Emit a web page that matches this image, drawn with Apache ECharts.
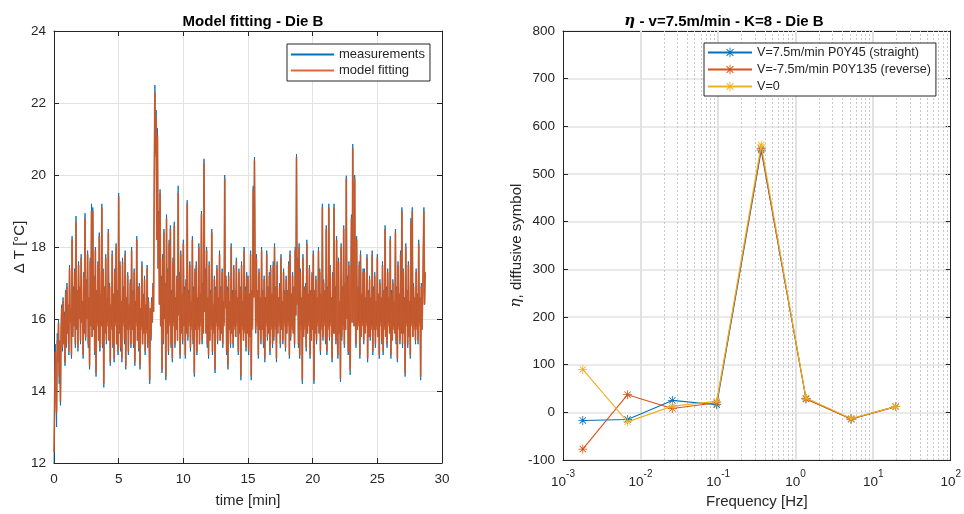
<!DOCTYPE html>
<html>
<head>
<meta charset="utf-8">
<title>Die B</title>
<script src="https://cdn.jsdelivr.net/npm/echarts@6/dist/echarts.min.js"></script>
<style>
  html, body { margin: 0; padding: 0; background: #fff; }
  #chart { width: 964px; height: 514px; }
</style>
</head>
<body>
<div id="chart"></div>
<script>
// ---- Left panel: temperature rise over time, sampled every 0.05 min ----
const SAMPLE_STEP_MIN = 0.05;

const measurements = [
  12.0, 13.5, 15.3, 14.0, 13.0, 15.6, 14.8, 16.0, 14.2, 15.4, 13.6, 15.8, 16.4, 15.1, 16.6, 15.3, 16.2, 14.7, 16.8, 15.2,
  17.0, 15.6, 16.4, 15.0, 17.5, 15.9, 16.3, 14.9, 18.3, 15.5, 16.9, 15.8, 17.4, 15.2, 18.86, 15.7, 16.8, 15.1, 17.6, 16.0,
  16.9, 15.3, 17.8, 15.9, 16.5, 14.9, 17.3, 15.6, 18.94, 15.4, 17.1, 16.0, 17.9, 15.2, 16.6, 14.6, 17.7, 15.8, 19.2, 15.5,
  19.1, 15.7, 17.2, 15.0, 18.0, 14.4, 16.8, 15.9, 17.6, 15.4, 18.4, 15.1, 16.7, 15.8, 19.2, 15.2, 17.4, 14.1, 16.9, 15.6,
  17.8, 15.3, 16.6, 15.9, 18.5, 15.4, 17.0, 14.7, 16.4, 15.8, 17.9, 15.2, 16.7, 14.8, 17.4, 15.9, 18.1, 15.3, 16.8, 15.0,
  19.5, 15.6, 17.6, 15.1, 16.5, 14.8, 17.7, 15.9, 16.9, 15.3, 17.9, 14.6, 16.6, 15.7, 17.3, 15.0, 16.4, 15.8, 17.1, 15.2,
  18.0, 15.7, 16.8, 15.2, 17.4, 14.7, 16.5, 15.9, 18.3, 15.4, 16.9, 15.1, 17.0, 14.6, 16.3, 15.8, 17.6, 15.3, 16.7, 15.6,
  17.2, 15.0, 16.4, 15.7, 17.5, 15.2, 16.6, 15.8, 14.2, 16.3, 15.4, 16.6, 15.9, 17.0, 16.2, 19.8, 22.5, 20.6, 21.8, 18.2,
  21.3, 17.4, 19.0, 16.4, 19.6, 15.8, 17.2, 14.5, 17.8, 15.3, 18.5, 16.0, 17.0, 14.3, 18.9, 15.6, 17.4, 15.0, 18.2, 15.9,
  18.6, 15.2, 16.8, 14.8, 17.7, 15.9, 18.7, 15.2, 16.6, 15.7, 17.2, 15.4, 19.7, 16.1, 17.3, 14.9, 17.9, 15.6, 16.7, 15.3,
  18.2, 15.8, 16.9, 14.9, 17.1, 15.6, 19.3, 15.4, 16.8, 15.9, 17.6, 15.1, 16.5, 15.8, 18.3, 15.3, 16.9, 14.4, 17.4, 15.7,
  17.6, 15.0, 16.6, 15.8, 18.1, 15.3, 16.7, 15.9, 19.0, 15.3, 17.0, 15.6, 20.45, 16.2, 17.4, 15.6, 18.0, 15.2, 16.6, 14.9,
  17.6, 15.4, 16.8, 15.8, 18.5, 15.0, 16.4, 15.7, 17.2, 14.5, 16.9, 15.9, 17.5, 15.3, 16.6, 15.8, 17.9, 15.4, 16.9, 15.6,
  17.4, 15.2, 16.5, 15.9, 20.0, 16.3, 17.2, 15.0, 16.9, 14.6, 17.3, 15.7, 16.5, 15.2, 18.1, 15.6, 16.8, 15.2, 17.5, 15.8,
  16.8, 15.5, 17.7, 15.9, 16.6, 15.0, 17.4, 15.6, 16.9, 14.3, 17.6, 15.8, 16.5, 15.4, 18.0, 15.7, 16.9, 15.1, 17.3, 15.6,
  17.2, 15.0, 16.7, 15.5, 17.9, 14.3, 16.8, 15.8, 19.7, 16.6, 20.5, 17.3, 15.6, 17.8, 15.9, 16.8, 14.9, 17.4, 15.7, 16.6,
  15.3, 18.0, 15.7, 16.8, 15.2, 17.2, 14.8, 16.6, 15.9, 17.9, 15.4, 16.9, 15.6, 17.3, 15.0, 17.5, 15.8, 16.7, 15.2, 17.6,
  15.4, 18.1, 15.8, 16.9, 14.8, 17.6, 15.6, 16.6, 15.9, 17.0, 15.2, 17.8, 15.7, 16.5, 15.3, 17.4, 15.9, 16.8, 15.1, 17.2,
  15.6, 16.8, 15.9, 17.6, 14.9, 17.9, 15.4, 16.7, 15.8, 17.3, 15.6, 16.9, 15.2, 18.0, 16.1, 20.58, 16.4, 17.7, 15.2, 18.1,
  14.9, 17.4, 15.8, 16.6, 14.2, 17.8, 15.5, 16.9, 15.8, 17.0, 15.1, 18.2, 15.6, 16.7, 15.9, 17.5, 14.9, 16.8, 15.4, 17.3,
  15.7, 17.9, 14.2, 16.8, 15.6, 17.2, 15.3, 16.6, 15.9, 18.0, 15.6, 17.4, 15.0, 16.7, 15.8, 19.2, 15.4, 17.1, 15.9, 16.8,
  15.3, 18.6, 15.0, 16.9, 15.8, 19.2, 15.4, 17.5, 15.9, 16.6, 14.8, 17.3, 15.6, 19.2, 15.6, 16.9, 15.3, 18.3, 15.9, 14.9,
  17.7, 15.6, 16.5, 14.25, 18.1, 15.4, 16.9, 15.8, 18.6, 15.2, 17.0, 15.7, 19.98, 16.0, 17.2, 15.0, 17.6, 15.8, 14.45, 16.9,
  18.9, 15.9, 20.86, 17.1, 15.8, 20.0, 16.3, 15.2, 18.3, 15.7, 16.9, 15.9, 17.6, 14.9, 17.9, 15.5, 16.7, 15.9, 17.4, 15.3,
  17.4, 15.6, 16.6, 15.9, 17.8, 14.8, 16.8, 15.5, 17.2, 15.4, 16.6, 15.8, 17.9, 15.0, 16.9, 15.7, 17.3, 15.2, 16.5, 15.8,
  17.8, 15.5, 16.7, 14.9, 17.1, 15.9, 16.6, 15.3, 17.6, 15.0, 16.8, 15.8, 18.6, 15.5, 16.9, 15.2, 17.4, 15.9, 16.6, 15.6,
  18.3, 14.9, 16.8, 15.4, 17.1, 15.8, 16.5, 15.6, 18.5, 15.3, 16.9, 14.8, 17.6, 15.8, 16.7, 15.3, 17.9, 15.6, 19.1, 15.2,
  17.4, 15.6, 16.6, 14.4, 18.1, 15.9, 16.8, 15.2, 17.6, 15.5, 16.5, 14.9, 18.8, 15.9, 19.1, 15.5, 17.0, 15.8, 16.6, 15.3,
  17.4, 15.8, 16.7, 15.3, 18.2, 15.9, 16.6, 14.3, 17.0, 15.7, 16.5, 17.8, 19.1, 16.4, 17.3
];

const modelFitting = [
  12.3, 13.8, 15.1, 14.2, 13.4, 15.4, 14.9, 15.9, 14.4, 15.3, 13.7, 15.7, 16.3, 15.2, 16.5, 15.3, 16.1, 14.8, 16.7, 15.3,
  16.9, 15.6, 16.4, 15.1, 17.4, 15.9, 16.3, 15.0, 18.2, 15.5, 16.8, 15.8, 17.3, 15.3, 18.7, 15.7, 16.8, 15.2, 17.5, 16.0,
  16.9, 15.4, 17.7, 15.9, 16.5, 15.0, 17.2, 15.6, 18.8, 15.5, 17.0, 16.0, 17.8, 15.3, 16.6, 14.7, 17.6, 15.8, 19.0, 15.5,
  19.0, 15.7, 17.1, 15.1, 17.9, 14.5, 16.8, 15.8, 17.5, 15.4, 18.3, 15.2, 16.7, 15.8, 19.1, 15.3, 17.3, 14.2, 16.9, 15.6,
  17.7, 15.4, 16.6, 15.8, 18.4, 15.4, 16.9, 14.8, 16.4, 15.7, 17.8, 15.3, 16.7, 14.9, 17.3, 15.8, 18.0, 15.3, 16.7, 15.1,
  19.4, 15.6, 17.5, 15.2, 16.5, 14.9, 17.6, 15.8, 16.8, 15.4, 17.8, 14.7, 16.6, 15.7, 17.2, 15.1, 16.4, 15.7, 17.0, 15.3,
  17.9, 15.7, 16.7, 15.3, 17.3, 14.8, 16.5, 15.8, 18.2, 15.4, 16.8, 15.2, 16.9, 14.7, 16.3, 15.7, 17.5, 15.3, 16.6, 15.6,
  17.1, 15.1, 16.4, 15.6, 17.4, 15.3, 16.5, 15.7, 14.3, 16.3, 15.5, 16.5, 15.9, 16.9, 16.2, 19.6, 22.3, 20.5, 21.6, 18.2,
  21.1, 17.4, 18.9, 16.4, 19.5, 15.8, 17.1, 14.6, 17.7, 15.4, 18.4, 16.0, 16.9, 14.4, 18.8, 15.6, 17.3, 15.1, 18.1, 15.8,
  18.5, 15.3, 16.7, 14.9, 17.6, 15.8, 18.6, 15.3, 16.6, 15.7, 17.1, 15.4, 19.5, 16.1, 17.2, 15.0, 17.8, 15.6, 16.7, 15.4,
  18.1, 15.8, 16.8, 15.0, 17.0, 15.6, 19.2, 15.5, 16.7, 15.8, 17.5, 15.2, 16.5, 15.7, 18.2, 15.4, 16.8, 14.5, 17.3, 15.7,
  17.5, 15.1, 16.6, 15.7, 18.0, 15.3, 16.7, 15.8, 18.9, 15.4, 16.9, 15.6, 20.35, 16.2, 17.3, 15.6, 17.9, 15.3, 16.6, 15.0,
  17.5, 15.4, 16.7, 15.7, 18.4, 15.1, 16.4, 15.6, 17.1, 14.6, 16.8, 15.8, 17.4, 15.4, 16.6, 15.7, 17.8, 15.4, 16.8, 15.6,
  17.3, 15.3, 16.5, 15.8, 19.9, 16.3, 17.1, 15.1, 16.8, 14.7, 17.2, 15.7, 16.5, 15.3, 18.0, 15.6, 16.7, 15.3, 17.4, 15.7,
  16.8, 15.5, 17.6, 15.8, 16.6, 15.1, 17.3, 15.6, 16.8, 14.4, 17.5, 15.7, 16.5, 15.4, 17.9, 15.6, 16.8, 15.2, 17.2, 15.6,
  17.1, 15.1, 16.7, 15.5, 17.8, 14.4, 16.7, 15.7, 19.6, 16.6, 20.4, 17.3, 15.7, 17.7, 15.8, 16.8, 15.0, 17.3, 15.7, 16.6,
  15.4, 17.9, 15.7, 16.7, 15.3, 17.1, 14.9, 16.6, 15.8, 17.8, 15.5, 16.8, 15.6, 17.2, 15.1, 17.4, 15.7, 16.7, 15.3, 17.5,
  15.5, 18.0, 15.7, 16.8, 14.9, 17.5, 15.6, 16.6, 15.8, 16.9, 15.3, 17.7, 15.7, 16.5, 15.4, 17.3, 15.8, 16.7, 15.2, 17.1,
  15.6, 16.8, 15.8, 17.5, 15.0, 17.8, 15.5, 16.7, 15.7, 17.2, 15.6, 16.8, 15.3, 17.9, 16.1, 20.5, 16.4, 17.6, 15.3, 18.0,
  15.0, 17.3, 15.7, 16.6, 14.3, 17.7, 15.5, 16.8, 15.7, 16.9, 15.2, 18.1, 15.6, 16.7, 15.8, 17.4, 15.0, 16.8, 15.4, 17.2,
  15.7, 17.8, 14.3, 16.8, 15.6, 17.1, 15.4, 16.6, 15.8, 17.9, 15.6, 17.3, 15.1, 16.7, 15.7, 19.1, 15.5, 17.0, 15.8, 16.8,
  15.4, 18.5, 15.1, 16.8, 15.7, 19.1, 15.5, 17.4, 15.8, 16.6, 14.9, 17.2, 15.6, 19.1, 15.6, 16.8, 15.4, 18.2, 15.8, 15.0,
  17.6, 15.6, 16.5, 14.35, 18.0, 15.5, 16.8, 15.7, 18.5, 15.3, 16.9, 15.7, 19.9, 16.0, 17.1, 15.1, 17.5, 15.7, 14.6, 16.8,
  18.8, 15.9, 20.75, 17.1, 15.8, 19.9, 16.3, 15.3, 18.2, 15.7, 16.8, 15.8, 17.5, 15.0, 17.8, 15.5, 16.7, 15.8, 17.3, 15.4,
  17.3, 15.6, 16.6, 15.8, 17.7, 14.9, 16.7, 15.5, 17.1, 15.5, 16.6, 15.7, 17.8, 15.1, 16.8, 15.7, 17.2, 15.3, 16.5, 15.7,
  17.7, 15.5, 16.7, 15.0, 17.0, 15.8, 16.6, 15.4, 17.5, 15.1, 16.7, 15.7, 18.5, 15.5, 16.8, 15.3, 17.3, 15.8, 16.6, 15.6,
  18.2, 15.0, 16.7, 15.4, 17.0, 15.7, 16.5, 15.6, 18.4, 15.4, 16.8, 14.9, 17.5, 15.7, 16.7, 15.4, 17.8, 15.6, 19.0, 15.3,
  17.3, 15.6, 16.6, 14.5, 18.0, 15.8, 16.7, 15.3, 17.5, 15.5, 16.5, 15.0, 18.7, 15.8, 19.0, 15.5, 16.9, 15.7, 16.6, 15.4,
  17.3, 15.7, 16.7, 15.4, 18.1, 15.8, 16.6, 14.4, 16.9, 15.7, 16.5, 17.7, 19.0, 16.4, 17.3
];

// ---- Right panel: eta versus frequency ----
const frequencyHz     = [0.0018, 0.0068, 0.0257, 0.096, 0.36, 1.36, 5.2, 19.5];
const etaStraight     = [-17, -15, 25, 16, 550, 29, -14, 12];
const etaReverse      = [-77, 37, 8, 20, 553, 28, -14, 12];
const etaStill        = [90, -20, 13, 23, 561, 30, -13, 12];

const leftYTicks  = [12, 14, 16, 18, 20, 22, 24];
const rightYTicks = [-100, 0, 100, 200, 300, 400, 500, 600, 700, 800];

// ---- styling ----
const FONT = 'Liberation Sans, Arial, Helvetica, sans-serif';
const TXT = '#262626';
const GRID_COLOR = '#e3e3e3';
const C_BLUE = '#0072BD', C_RED = '#D95319', C_YELLOW = '#EDB120';

// MATLAB-style asterisk marker
const STAR = 'path://M-5,-0.45L5,-0.45L5,0.45L-5,0.45Z' +
  'M-0.45,-5L0.45,-5L0.45,5L-0.45,5Z' +
  'M-3.2,-3.84L3.84,3.2L3.2,3.84L-3.84,-3.2Z' +
  'M3.2,-3.84L3.84,-3.2L-3.2,3.84L-3.84,3.2Z';

const timeMin = measurements.map((_, i) => +(i * SAMPLE_STEP_MIN).toFixed(2));
const pairs = (xs, ys) => xs.map((x, i) => [x, ys[i]]);

// grid lines of the logarithmic frequency axis: solid at decades, dotted at 2..9 per decade
const decadeLines = [];
const minorLogLines = [];
for (let e = -3; e <= 1; e++) {
  if (e > -3) decadeLines.push({ xAxis: Math.pow(10, e) });
  for (let k = 2; k <= 9; k++) minorLogLines.push({ xAxis: +(k * Math.pow(10, e)).toPrecision(3) });
}

const supLabel = v => {
  const p = Math.round(Math.log10(v));
  return '{b|10}{s|' + p + '}';
};

const NAME_STYLE = { color: TXT, fontFamily: FONT, fontSize: 15 };

const axisBase = {
  axisLine: { show: true, onZero: false, lineStyle: { color: TXT, width: 1 } },
  axisTick: { show: true, inside: true, length: 5, lineStyle: { color: TXT } },
  axisLabel: { color: TXT, fontFamily: FONT, fontSize: 13.5 },
  nameTextStyle: NAME_STYLE
};

const mirror = extra => Object.assign({
  axisLine: { show: true, onZero: false, lineStyle: { color: TXT, width: 1 } },
  axisTick: { show: true, inside: true, length: 5, lineStyle: { color: TXT } },
  axisLabel: { show: false },
  splitLine: { show: false },
  minorTick: { show: false },
  minorSplitLine: { show: false }
}, extra);

const chart = echarts.init(document.getElementById('chart'), null, { renderer: 'canvas' });

const gridMarkSeries = (name, lines, style, z) => ({
  name, type: 'line', xAxisIndex: 2, yAxisIndex: 2,
  data: [], silent: true, z,
  markLine: {
    z: z,
    silent: true, animation: false, symbol: ['none', 'none'],
    label: { show: false },
    lineStyle: style,
    emphasis: { disabled: true },
    data: lines
  }
});

chart.setOption({
  animation: false,
  backgroundColor: '#ffffff',
  textStyle: { fontFamily: FONT },
  title: [
    {
      text: 'Model fitting - Die B',
      left: 248, top: 9, textAlign: 'center',
      textStyle: { fontFamily: FONT, fontSize: 15, fontWeight: 'bold', color: '#000' }
    },
    {
      text: '{i|η} - v=7.5m/min - K=8 - Die B',
      left: 719, top: 9, textAlign: 'center',
      textStyle: {
        fontFamily: FONT, fontSize: 15, fontWeight: 'bold', color: '#000',
        rich: {
          i: { fontFamily: 'DejaVu Serif, serif', fontStyle: 'italic', fontWeight: 'bold', fontSize: 15, color: '#000' }
        }
      }
    }
  ],
  legend: [
    {
      left: 287, top: 44, orient: 'vertical', z: 20,
      data: ['measurements', 'model fitting'],
      itemWidth: 43, itemHeight: 12, itemGap: 3,
      padding: [4, 5, 4, 3],
      itemStyle: { opacity: 0 },
      borderColor: TXT, borderWidth: 1, backgroundColor: '#fff',
      textStyle: { color: TXT, fontFamily: FONT, fontSize: 13 }
    },
    {
      left: 704, top: 43, orient: 'vertical', z: 20,
      data: ['V=7.5m/min P0Y45 (straight)', 'V=-7.5m/min P0Y135 (reverse)', 'V=0'],
      itemWidth: 44, itemHeight: 12, itemGap: 4,
      padding: [3, 5, 3, 3],
      borderColor: TXT, borderWidth: 1, backgroundColor: '#fff',
      textStyle: { color: TXT, fontFamily: FONT, fontSize: 12.6 }
    }
  ],
  grid: [
    { left: 54, right: 522, top: 31, bottom: 51, show: false },
    { left: 563, right: 12, top: 31, bottom: 50, show: false }
  ],
  xAxis: [
    Object.assign({}, axisBase, {
      type: 'value', gridIndex: 0, min: 0, max: 30, interval: 5,
      name: 'time [min]', nameLocation: 'middle', nameGap: 30,
      splitLine: { show: true, lineStyle: { color: GRID_COLOR, width: 1, type: 'solid' } },
      axisLabel: Object.assign({}, axisBase.axisLabel, { margin: 9 })
    }),
    mirror({ type: 'value', gridIndex: 0, position: 'top', min: 0, max: 30, interval: 5 }),
    Object.assign({}, axisBase, {
      type: 'log', logBase: 10, gridIndex: 1, min: 0.001, max: 100,
      name: 'Frequency [Hz]', nameLocation: 'middle', nameGap: 34,
      splitLine: { show: false },
      minorTick: { show: false },
      minorSplitLine: { show: false },
      axisLabel: {
        color: TXT, fontFamily: FONT, fontSize: 13.5, margin: 9,
        formatter: supLabel,
        rich: {
          b: { fontFamily: FONT, fontSize: 13.5, color: TXT, padding: [6, 0, 0, 0] },
          s: { fontFamily: FONT, fontSize: 10, color: TXT, verticalAlign: 'top', padding: [0, 0, 6, 0] }
        }
      }
    }),
    mirror({ type: 'log', logBase: 10, gridIndex: 1, position: 'top', min: 0.001, max: 100 })
  ],
  yAxis: [
    Object.assign({}, axisBase, {
      type: 'value', gridIndex: 0, min: leftYTicks[0], max: leftYTicks[leftYTicks.length - 1], interval: 2,
      name: 'Δ T [°C]', nameLocation: 'middle', nameGap: 26,
      splitLine: { show: true, lineStyle: { color: GRID_COLOR, width: 1, type: 'solid' } },
      axisLabel: Object.assign({}, axisBase.axisLabel, { margin: 8 })
    }),
    mirror({ type: 'value', gridIndex: 0, position: 'right', min: 12, max: 24, interval: 2 }),
    Object.assign({}, axisBase, {
      type: 'value', gridIndex: 1, min: rightYTicks[0], max: rightYTicks[rightYTicks.length - 1], interval: 100,
      name: '{i|η}, diffusive symbol', nameLocation: 'middle', nameGap: 38,
      nameTextStyle: {
        color: TXT, fontFamily: FONT, fontSize: 15,
        rich: { i: { fontFamily: 'DejaVu Serif, serif', fontStyle: 'italic', fontSize: 15, color: TXT } }
      },
      splitLine: { show: true, lineStyle: { color: GRID_COLOR, width: 1.5, type: 'solid' } },
      axisLabel: Object.assign({}, axisBase.axisLabel, { margin: 8 })
    }),
    mirror({ type: 'value', gridIndex: 1, position: 'right', min: -100, max: 800, interval: 100 })
  ],
  series: [
    {
      name: 'measurements', type: 'line', xAxisIndex: 0, yAxisIndex: 0,
      data: pairs(timeMin, measurements),
      showSymbol: false, symbol: 'none',
      lineStyle: { color: C_BLUE, width: 0.9 },
      itemStyle: { color: C_BLUE },
      z: 2
    },
    {
      name: 'model fitting', type: 'line', xAxisIndex: 0, yAxisIndex: 0,
      data: pairs(timeMin, modelFitting),
      showSymbol: false, symbol: 'none',
      lineStyle: { color: C_RED, width: 1.7, opacity: 0.88 },
      itemStyle: { color: C_RED },
      z: 3
    },
    gridMarkSeries('minor-grid', minorLogLines, { color: '#c8c8c8', type: [2, 2], width: 1 }, 1),
    gridMarkSeries('decade-grid', decadeLines, { color: '#e2e2e2', type: 'solid', width: 2 }, 2),
    {
      name: 'V=7.5m/min P0Y45 (straight)', type: 'line', xAxisIndex: 2, yAxisIndex: 2,
      data: pairs(frequencyHz, etaStraight),
      symbol: STAR, symbolSize: 9,
      lineStyle: { color: C_BLUE, width: 1.1 },
      itemStyle: { color: C_BLUE },
      z: 3
    },
    {
      name: 'V=-7.5m/min P0Y135 (reverse)', type: 'line', xAxisIndex: 2, yAxisIndex: 2,
      data: pairs(frequencyHz, etaReverse),
      symbol: STAR, symbolSize: 9,
      lineStyle: { color: C_RED, width: 1.1 },
      itemStyle: { color: C_RED },
      z: 4
    },
    {
      name: 'V=0', type: 'line', xAxisIndex: 2, yAxisIndex: 2,
      data: pairs(frequencyHz, etaStill),
      symbol: STAR, symbolSize: 9,
      lineStyle: { color: C_YELLOW, width: 1.1 },
      itemStyle: { color: C_YELLOW },
      z: 5
    }
  ]
});
</script>
</body>
</html>
